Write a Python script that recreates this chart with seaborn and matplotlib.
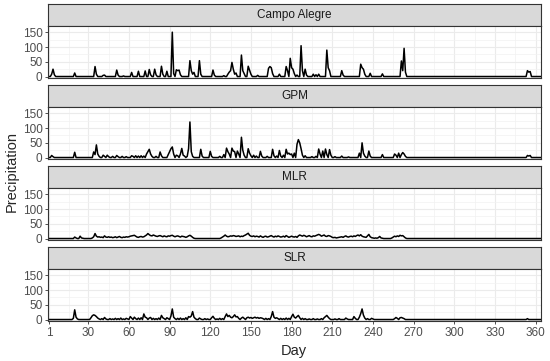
import numpy as np
import pandas as pd
import seaborn as sns
import matplotlib
matplotlib.use("Agg")
import matplotlib.pyplot as plt

# daily precipitation, only the non-zero days are listed (all other days are 0)
ca_days = [3,4,5,20,35,36,41,42,51,52,56,62,67,72,75,76,79,80,84,85,88,92,93,95,96,97,98,
           105,106,107,108,112,113,122,123,130,133,134,135,136,137,138,139,143,144,145,148,149,150,
           155,163,164,165,166,171,176,177,179,180,181,182,184,187,188,190,191,196,198,200,206,207,208,
           217,218,231,232,233,234,238,247,261,262,263,264,354,355,356]
ca_vals = [8,25,6,12,34,8,4,5,22,5,2,14,18,19,24,6,25,6,35,8,18,151,10,23,20,22,6,
           54,20,8,14,54,8,22,5,3,8,15,20,48,25,8,12,73,20,10,35,22,8,
           4,28,34,30,10,8,34,20,62,30,25,10,5,105,20,25,5,8,6,8,90,30,20,
           20,5,42,30,25,8,11,9,53,20,96,15,20,15,17]

gpm_days = [3,4,20,34,35,36,37,38,41,42,44,45,48,51,52,55,58,62,63,65,67,69,71,73,74,75,76,77,80,
            83,84,89,90,91,92,93,95,96,98,99,100,101,103,104,105,106,107,113,114,120,121,127,130,
            132,133,134,136,137,138,140,141,143,144,145,148,149,150,152,154,157,158,162,166,167,169,
            171,172,174,176,177,178,179,180,182,184,185,186,187,188,190,195,198,200,201,203,205,206,
            208,209,212,217,222,230,232,233,234,237,238,247,256,257,259,261,262,263,264,354,355,356]
gpm_vals = [7,3,18,19,10,43,12,4,8,4,8,3,4,7,3,4,3,6,4,6,5,6,5,12,20,28,12,4,4,
            19,6,10,20,30,36,12,8,6,12,31,8,5,4,30,121,20,4,28,5,21,4,4,10,
            32,20,12,32,22,20,22,12,69,25,8,30,15,6,8,5,21,5,4,28,6,5,
            24,5,8,28,12,15,10,12,15,45,61,50,30,8,6,3,4,29,12,22,29,10,
            27,8,3,5,2,15,50,15,5,22,5,10,12,8,15,10,17,12,4,7,5,7]

# MLR is a continuous small series from day 18 to day 265
mlr_first_day = 18
mlr_vals = [0,0,5,2,0,0,8,2,1,0,
            0,0,0,0,0,2,6,17,8,5,
            6,4,5,3,9,5,4,6,4,5,
            3,4,6,3,5,7,4,3,5,4,
            6,5,6,8,9,10,11,8,5,4,
            6,7,5,6,9,12,17,13,10,9,
            12,10,8,7,9,10,8,6,9,7,
            6,9,8,10,11,8,6,8,9,7,
            5,8,7,6,4,6,9,11,8,4,
            1,0,0,0,0,0,0,0,0,0,
            0,0,0,0,0,0,0,0,0,0,
            2,5,8,12,8,6,7,9,8,10,
            9,7,8,9,6,8,7,10,12,15,
            18,11,8,7,9,6,8,7,5,9,
            6,4,7,8,5,6,8,10,7,5,
            8,6,9,7,5,6,8,5,10,7,
            4,6,8,6,5,7,4,9,12,10,
            8,11,9,6,8,10,7,6,9,8,
            10,12,14,12,8,10,12,8,7,10,
            9,7,4,3,4,2,3,4,5,6,
            4,7,9,6,5,7,8,6,9,7,
            10,12,9,13,8,6,5,4,9,14,
            6,3,2,1,2,1,3,7,2,1,
            0,0,0,0,0,0,2,5,8,6,
            9,7,11,9,10,6,2,0]

slr_days = [19,20,21,22,32,33,34,35,36,37,38,40,42,43,46,48,50,52,54,56,58,59,61,62,64,65,67,69,
            71,72,73,75,76,78,80,82,84,85,86,88,89,91,92,93,94,96,98,100,102,104,105,106,107,108,109,
            112,113,116,118,121,122,123,125,127,129,131,132,133,134,135,136,137,138,139,140,141,143,
            144,145,147,148,149,150,151,152,153,154,155,156,157,158,159,161,163,165,166,167,168,169,
            170,172,174,176,178,180,181,182,183,184,185,186,188,190,193,196,199,202,204,205,206,207,
            208,212,215,220,221,226,227,230,231,232,233,234,236,239,240,256,257,258,260,261,262,263,354]
slr_vals = [4,33,8,2,6,13,16,14,10,5,2,3,7,2,3,2,4,3,5,2,4,2,10,5,8,3,5,6,
            19,8,6,5,7,4,3,5,14,6,3,6,3,12,36,8,3,4,5,3,6,10,8,12,27,8,3,
            5,2,3,2,6,11,4,2,4,3,10,19,10,14,8,6,10,16,9,10,4,5,
            8,4,6,8,5,7,4,6,8,5,7,4,6,5,3,4,3,10,27,8,4,6,
            3,4,3,5,4,10,18,8,5,10,14,6,4,3,2,3,2,3,6,10,14,8,
            3,2,3,5,2,10,4,8,20,36,15,5,3,4,2,3,7,4,6,7,5,3,3]

sources = ["Campo Alegre", "GPM", "MLR", "SLR"]
x_ticks = [1, 30, 60, 90, 120, 150, 180, 210, 240, 270, 300, 330, 360]
y_ticks = [0, 50, 100, 150]

day = np.arange(1, 366)
ca = np.zeros(365); ca[np.array(ca_days) - 1] = ca_vals
gpm = np.zeros(365); gpm[np.array(gpm_days) - 1] = gpm_vals
mlr = np.zeros(365); mlr[mlr_first_day - 1:mlr_first_day - 1 + len(mlr_vals)] = mlr_vals
slr = np.zeros(365); slr[np.array(slr_days) - 1] = slr_vals

df = pd.concat([
    pd.DataFrame({"Day": day, "Precipitation": v, "Source": s})
    for s, v in zip(sources, [ca, gpm, mlr, slr])
])

sns.set_style("white")
plt.rcParams['font.family'] = ['Liberation Sans', 'DejaVu Sans']

W, H = 550, 361
fig = plt.figure(figsize=(W / 100, H / 100), dpi=100)

def box(x0, y0, w, h):
    # pixel box (from top-left) to figure fraction
    return [x0 / W, 1 - (y0 + h) / H, w / W, h / H]

left, width = 48, 493
strip_h, panel_h, step = 22, 52, 81
border = '#333333'

x_minor = [(a + b) / 2 for a, b in zip(x_ticks[:-1], x_ticks[1:])]

for i, name in enumerate(sources):
    top = 4 + step * i
    # strip
    sa = fig.add_axes(box(left, top, width, strip_h))
    sa.set_facecolor('#D9D9D9')
    sa.set_xticks([]); sa.set_yticks([])
    for sp in sa.spines.values():
        sp.set_color(border); sp.set_linewidth(0.8)
    sa.text(0.5, 0.5, name, ha='center', va='center', fontsize=8.5, color='#1A1A1A',
            transform=sa.transAxes)

    ax = fig.add_axes(box(left, top + strip_h, width, panel_h))
    sns.lineplot(data=df[df.Source == name], x="Day", y="Precipitation",
                 color='black', linewidth=1.1, ax=ax)
    ax.set_xlim(0.3, 364)
    ax.set_ylim(-5, 172)
    ax.set_xticks(x_ticks)
    ax.set_xticks(x_minor, minor=True)
    ax.set_yticks(y_ticks)
    ax.set_yticks([25, 75, 125], minor=True)
    ax.grid(which='major', color='#EBEBEB', linewidth=0.8)
    ax.grid(which='minor', color='#F2F2F2', linewidth=0.5)
    ax.set_axisbelow(True)
    ax.tick_params(which='minor', length=0)
    ax.tick_params(which='major', length=2.5, width=0.6, color=border,
                   labelsize=8.5, labelcolor='#4D4D4D', pad=1.5, left=True, bottom=True)
    if i < len(sources) - 1:
        ax.tick_params(axis='x', bottom=False, labelbottom=False)
    ax.set_xlabel('')
    ax.set_ylabel('')
    for sp in ax.spines.values():
        sp.set_color(border); sp.set_linewidth(0.8)

fig.text(294 / W, 1 - 351 / H, "Day", ha='center', va='center', fontsize=10.5)
fig.text(12 / W, 1 - 172 / H, "Precipitation", ha='center', va='center',
         rotation=90, fontsize=10.5)

fig.savefig("out.png", dpi=100)
